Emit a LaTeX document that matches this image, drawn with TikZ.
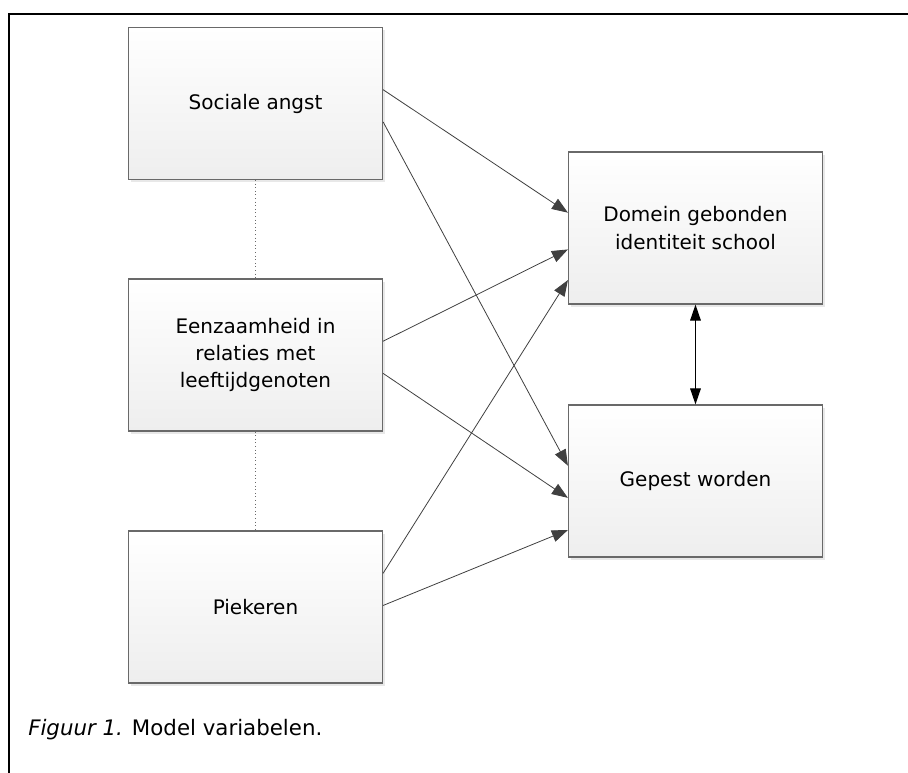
\documentclass[tikz,border=0pt]{standalone}
\usepackage{fontspec}
\setmainfont{DejaVu Sans}
\usetikzlibrary{arrows.meta, calc, shadows}
\definecolor{boxline}{RGB}{105, 105, 105}
\definecolor{arrowgray}{RGB}{64, 64, 64}
\definecolor{boxbottom}{RGB}{238, 238, 238}

\tikzset{
  varbox/.style={draw=boxline, line width=0.9pt, top color=white, bottom color=boxbottom,
    minimum width=190.5pt, minimum height=114pt, inner sep=0pt, align=center,
    font=\fontsize{15}{20.5}\selectfont,
    drop shadow={shadow xshift=2pt, shadow yshift=-2pt, opacity=0.18}},
  effect/.style={draw=arrowgray, line width=0.6pt, -{Triangle[length=12pt, width=9pt]}},
  linked/.style={draw=boxline, line width=0.7pt, dotted},
}

\begin{document}
\begin{tikzpicture}[x=0.75pt, y=-0.75pt]
  \useasboundingbox (0,0) rectangle (908,773);

  % frame
  \draw[line width=1.6pt] (9,773) -- (9,14) -- (908,14);

  % predictors
  \node[varbox] (angst) at (255.5, 103.5) {Sociale angst};
  \node[varbox] (eenzaam) at (255.5, 355) {Eenzaamheid in\\relaties met\\leeftijdgenoten};
  \node[varbox] (pieker) at (255.5, 607) {Piekeren};

  % outcomes
  \node[varbox] (domein) at (695.5, 228) {Domein gebonden\\identiteit school};
  \node[varbox] (gepest) at (695.5, 481) {Gepest worden};

  % correlations between predictors
  \draw[linked] (angst) -- (eenzaam);
  \draw[linked] (eenzaam) -- (pieker);

  % paths
  \draw[effect] ($(angst.north east)!0.41!(angst.south east)$) -- ($(domein.north west)!0.40!(domein.south west)$);
  \draw[effect] ($(angst.north east)!0.62!(angst.south east)$) -- ($(gepest.north west)!0.40!(gepest.south west)$);
  \draw[effect] ($(eenzaam.north east)!0.41!(eenzaam.south east)$) -- ($(domein.north west)!0.64!(domein.south west)$);
  \draw[effect] ($(eenzaam.north east)!0.62!(eenzaam.south east)$) -- ($(gepest.north west)!0.61!(gepest.south west)$);
  \draw[effect] ($(pieker.north east)!0.28!(pieker.south east)$) -- ($(domein.north west)!0.84!(domein.south west)$);
  \draw[effect] ($(pieker.north east)!0.49!(pieker.south east)$) -- ($(gepest.north west)!0.82!(gepest.south west)$);

  % domein <-> gepest
  \draw[{Triangle[length=12pt, width=8pt]}-{Triangle[length=12pt, width=8pt]}, line width=0.8pt] (domein) -- (gepest);

  % caption
  \node[anchor=base west, font=\fontsize{16}{19}\selectfont, inner sep=0pt] (caption) at (28, 736) {\textit{Figuur 1.} Model variabelen.};
\end{tikzpicture}
\end{document}
